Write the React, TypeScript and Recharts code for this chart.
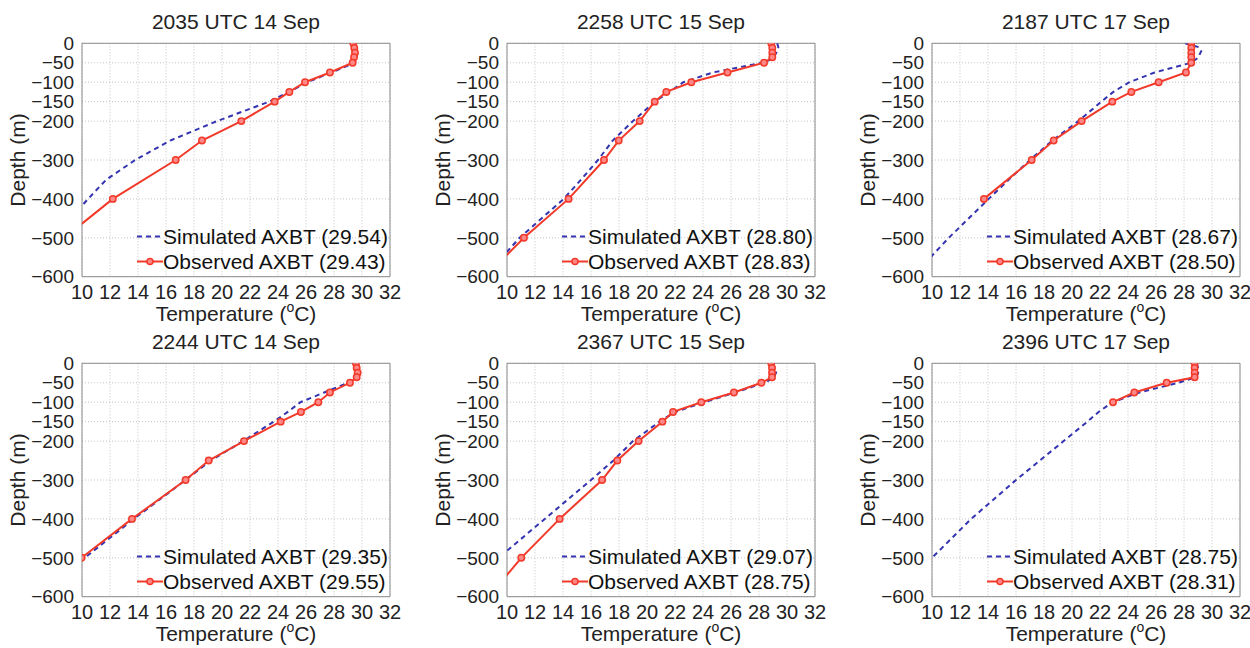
import React from "react";
import {
  ScatterChart,
  Scatter,
  XAxis,
  YAxis,
  CartesianGrid,
  ReferenceArea,
  Legend,
} from "recharts";

const TEMP_TICKS = [10, 12, 14, 16, 18, 20, 22, 24, 26, 28, 30, 32];
const DEPTH_TICKS = [0, -50, -100, -150, -200, -300, -400, -500, -600];

// observed AXBT levels (m) and simulated model levels (m)
const OBS_DEPTHS = [0, -12, -24, -36, -50, -75, -100, -125, -150, -200, -250, -300, -400, -500, -600];
const SIM_DEPTHS = [0, -10, -20, -30, -40, -50, -75, -100, -125, -150, -200, -250, -300, -350, -400, -500, -600];

const TITLES = [
  "2035 UTC 14 Sep",
  "2258 UTC 15 Sep",
  "2187 UTC 17 Sep",
  "2244 UTC 14 Sep",
  "2367 UTC 15 Sep",
  "2396 UTC 17 Sep",
];
const SIM_MEANS = ["29.54", "28.80", "28.67", "29.35", "29.07", "28.75"];
const OBS_MEANS = ["29.43", "28.83", "28.50", "29.55", "28.75", "28.31"];

const sim1 = [29.5, 29.55, 29.62, 29.65, 29.6, 29.5, 27.8, 26.1, 24.8, 23.37, 19.65, 16.3, 13.8, 11.75, 10.43, 8.0, 5.6];
const obs1 = [29.38, 29.45, 29.5, 29.43, 29.33, 27.71, 25.93, 24.81, 23.76, 21.38, 18.57, 16.69, 12.2, 8.74];

const sim2 = [29.3, 29.38, 29.3, 29.15, 29.0, 28.2, 24.7, 22.6, 21.6, 20.55, 19.0, 17.55, 16.5, 15.3, 14.05, 10.9, 8.4];
const obs2 = [28.88, 28.95, 28.95, 28.95, 28.36, 25.75, 23.17, 21.38, 20.55, 19.48, 17.98, 16.93, 14.4, 11.21, 8.46];

const sim3 = [28.08, 29.05, 29.23, 29.1, 28.9, 28.5, 25.9, 24.1, 22.95, 22.1, 20.45, 18.6, 17.0, 15.5, 14.05, 11.2, 8.6];
const obs3 = [28.52, 28.52, 28.52, 28.52, 28.52, 28.14, 26.19, 24.24, 22.88, 20.69, 18.69, 17.12, 13.71];

const sim4 = [29.4, 29.45, 29.5, 29.5, 29.45, 29.0, 27.3, 25.6, 24.7, 23.7, 21.5, 19.2, 17.4, 15.55, 13.7, 10.2, 7.0];
const obs4 = [29.57, 29.62, 29.69, 29.62, 29.14, 27.71, 26.88, 25.64, 24.19, 21.57, 19.05, 17.4, 13.57, 9.97];

const sim5 = [29.0, 29.1, 29.25, 29.15, 28.9, 28.4, 26.3, 24.1, 22.0, 20.9, 19.0, 17.6, 16.0, 14.35, 12.7, 9.4, 6.1];
const obs5 = [28.88, 28.93, 28.93, 28.93, 28.17, 26.21, 23.88, 21.86, 21.1, 19.4, 17.88, 16.79, 13.76, 11.02, 8.7];

const sim6 = [28.9, 29.0, 29.05, 28.95, 28.5, 27.6, 24.8, 22.9, 21.9, 21.1, 19.4, 17.7, 16.0, 14.4, 12.8, 10.0, 7.2];
const obs6 = [28.76, 28.76, 28.76, 28.76, 26.76, 24.45, 22.93];

const SIMS = [sim1, sim2, sim3, sim4, sim5, sim6];
const OBSS = [obs1, obs2, obs3, obs4, obs5, obs6];

const FONT = "'Liberation Sans', Arial, Helvetica, sans-serif";
const SIM_COLOR = "#3434b0";
const OBS_COLOR = "#f23a2a";
const TEXT = "#222";

const W = 420;
const H = 340;
const MARGIN = { top: 43.3, right: 30, bottom: 33.3, left: 22 };
const Y_W = 60;
const X_H = 30;
const PLOT_W = W - MARGIN.left - MARGIN.right - Y_W;

const COL_LEFT = [0, 425, 850];
const ROW_TOP = [0, 320];

const toRows = (temps: number[], depths: number[]) =>
  temps.map((t, i) => ({ t, d: depths[i] }));

const minus = (v: number) => String(v).replace("-", "\u2212");

function LegendBox({ sim, obs }: { sim: string; obs: string }) {
  const row = { display: "flex", alignItems: "center", height: 25, whiteSpace: "nowrap" as const };
  return (
    <div style={{ fontFamily: FONT, fontSize: 21, color: "#111" }}>
      <div style={row}>
        <svg width={26} height={25}>
          <line x1={0} x2={26} y1={12.5} y2={12.5} stroke={SIM_COLOR} strokeWidth={2} strokeDasharray="5 4" />
        </svg>
        <span>Simulated AXBT ({sim})</span>
      </div>
      <div style={row}>
        <svg width={26} height={25}>
          <line x1={0} x2={26} y1={12.5} y2={12.5} stroke={OBS_COLOR} strokeWidth={2} />
          <circle cx={13} cy={12.5} r={3} fill="#f88" stroke={OBS_COLOR} strokeWidth={1.5} />
        </svg>
        <span>Observed AXBT ({obs})</span>
      </div>
    </div>
  );
}

function Panel({ idx }: { idx: number }) {
  const left = COL_LEFT[idx % 3];
  const top = ROW_TOP[Math.floor(idx / 3)];
  const simData = toRows(SIMS[idx], SIM_DEPTHS);
  const obsData = toRows(OBSS[idx], OBS_DEPTHS);
  return (
    <div style={{ position: "absolute", left, top, width: W, height: H }}>
      <div
        style={{
          position: "absolute",
          left: MARGIN.left + Y_W,
          width: PLOT_W,
          top: 11,
          lineHeight: "21px",
          textAlign: "center",
          fontFamily: FONT,
          fontSize: 21,
          color: TEXT,
          whiteSpace: "nowrap",
        }}
      >
        {TITLES[idx]}
      </div>
      <ScatterChart width={W} height={H} margin={MARGIN} style={{ position: "absolute", left: 0, top: 0 }}>
        <CartesianGrid stroke="#c4c4c4" strokeDasharray="1 2" />
        <XAxis
          type="number"
          dataKey="t"
          domain={[10, 32]}
          ticks={TEMP_TICKS}
          allowDataOverflow
          height={X_H}
          axisLine={false}
          tickLine={false}
          interval={0}
          tick={{ fontSize: 20, fill: TEXT, fontFamily: FONT }}
          label={{
            content: (p: any) => {
              const vb = p.viewBox;
              return (
                <text
                  x={vb.x + vb.width / 2}
                  y={vb.y + 44}
                  textAnchor="middle"
                  fontSize={21}
                  fill={TEXT}
                  fontFamily={FONT}
                >
                  Temperature (
                  <tspan fontSize={14} dy={-9}>o</tspan>
                  <tspan dy={9}>C)</tspan>
                </text>
              );
            },
          }}
        />
        <YAxis
          type="number"
          dataKey="d"
          domain={[-600, 0]}
          ticks={DEPTH_TICKS}
          allowDataOverflow
          width={Y_W}
          axisLine={false}
          tickLine={false}
          interval={0}
          tickMargin={2}
          tickFormatter={minus}
          tick={{ fontSize: 19, fill: TEXT, fontFamily: FONT }}
          label={{
            content: (p: any) => {
              const vb = p.viewBox;
              const cx = vb.x + vb.width - 64;
              const cy = vb.y + vb.height / 2;
              return (
                <text
                  x={cx}
                  y={cy}
                  dy="0.35em"
                  transform={`rotate(-90 ${cx} ${cy})`}
                  textAnchor="middle"
                  fontSize={21}
                  fill={TEXT}
                  fontFamily={FONT}
                >
                  Depth (m)
                </text>
              );
            },
          }}
        />
        <ReferenceArea x1={10} x2={32} y1={-600} y2={0} fill="none" stroke="#8c8c8c" strokeWidth={1} />
        <Scatter
          data={simData}
          fill={SIM_COLOR}
          line={{ stroke: SIM_COLOR, strokeWidth: 2, strokeDasharray: "5 4" }}
          shape={() => <g />}
          isAnimationActive={false}
        />
        <Scatter
          data={obsData}
          fill={OBS_COLOR}
          line={{ stroke: OBS_COLOR, strokeWidth: 2 }}
          shape={(p: any) => (
            <circle cx={p.cx} cy={p.cy} r={3.2} fill="#f88" stroke={OBS_COLOR} strokeWidth={1.5} />
          )}
          isAnimationActive={false}
        />
        <Legend
          layout="horizontal"
          verticalAlign="middle"
          align="center"
          wrapperStyle={{ left: MARGIN.left + Y_W + 55, top: 224, width: 280 }}
          content={() => <LegendBox sim={SIM_MEANS[idx]} obs={OBS_MEANS[idx]} />}
        />
      </ScatterChart>
    </div>
  );
}

export default function App() {
  return (
    <div
      style={{
        position: "absolute",
        left: 0,
        top: 0,
        width: 1250,
        height: 648,
        overflow: "hidden",
        background: "#fff",
      }}
    >
      {[0, 1, 2, 3, 4, 5].map((i) => (
        <Panel key={i} idx={i} />
      ))}
    </div>
  );
}
